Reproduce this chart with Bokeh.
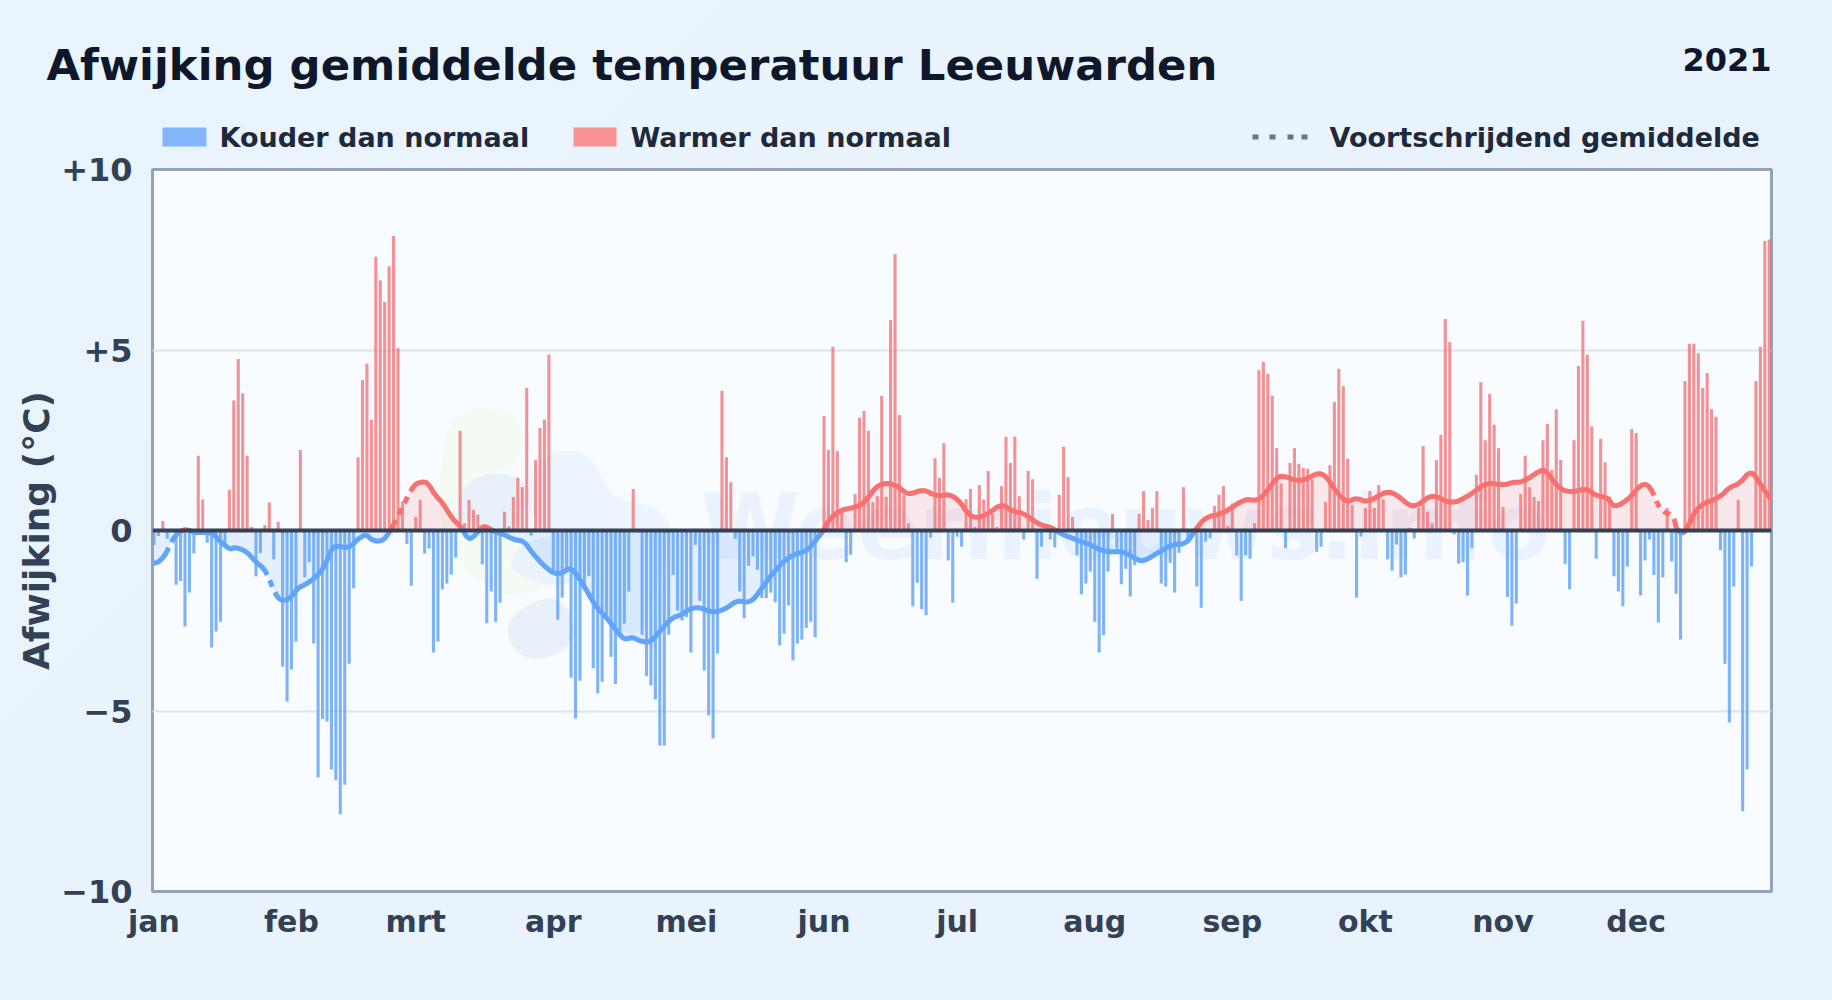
from bokeh.plotting import figure
from bokeh.layouts import column
from bokeh.embed import file_html
from bokeh.resources import INLINE
from bokeh.core.properties import value
from bokeh.models import Range1d, FixedTicker, Label, PolyAnnotation, Span

days = list(range(365))
anomaly = [
-0.4,-0.15,0.26,-0.23,-0.05,-1.5,-1.4,-2.66,-1.72,-0.64,2.07,0.86,-0.34,-3.24,-2.8,-2.53,-0.4,1.13,3.6,4.75,
3.8,2.07,0.1,-1.27,-0.63,0.15,0.78,-0.8,0.24,-3.77,-4.74,-3.85,-3.08,2.23,-1.3,-0.88,-3.13,-6.84,-5.22,-5.29,
-6.62,-6.92,-7.86,-7.04,-3.69,-1.6,2.03,4.17,4.62,3.07,7.58,6.93,6.33,7.32,8.16,5.05,0.8,-0.37,-1.53,0.38,
0.85,-0.64,-0.5,-3.38,-3.08,-1.63,-1.47,-1.22,-0.75,2.76,0.2,0.85,0.57,0.44,-0.94,-2.57,-1.69,-2.53,-2.0,0.52,
0.11,0.93,1.46,1.2,3.95,-0.14,1.95,2.84,3.07,4.87,-1.1,-2.47,-1.86,-1.15,-4.08,-5.21,-4.16,-1.66,-1.26,-3.82,
-4.51,-4.19,-2.35,-3.5,-4.25,-2.8,-2.58,-1.69,1.15,-0.05,-2.89,-4.04,-4.29,-4.68,-5.96,-5.96,-2.89,-1.23,-2.22,-2.49,
-2.4,-3.38,-0.4,-1.95,-3.88,-5.12,-5.76,-3.41,3.87,2.03,1.34,-0.23,-1.69,-2.43,-0.98,-0.72,-1.09,-1.87,-1.87,-1.72,
-1.99,-3.18,-2.86,-2.07,-3.6,-3.13,-3.02,-2.7,-2.53,-2.96,-0.2,3.17,2.23,5.09,2.2,0.52,-0.88,-0.67,1.01,3.12,
3.31,2.76,0.79,0.95,3.73,0.93,5.83,7.66,3.2,0.98,0.2,-2.1,-1.45,-2.18,-2.35,-0.2,2.0,1.46,2.42,-0.83,
-2.0,-0.17,-0.45,0.87,1.15,0.1,1.26,0.86,1.65,0.46,0.1,1.23,2.6,1.87,2.6,0.95,-0.25,1.65,1.42,-1.34,
-0.45,0.05,-0.25,-0.47,0.99,2.32,1.48,0.38,-0.69,-1.77,-1.47,-1.14,-2.53,-3.38,-2.9,-1.14,0.46,-0.5,-1.49,-1.06,
-1.83,-0.96,0.46,1.09,0.29,0.62,1.09,-1.47,-1.55,-0.9,-1.72,-0.62,1.2,-0.34,-0.05,-1.55,-2.14,-0.31,-0.22,0.68,
0.99,1.23,0.13,0.75,-0.69,-1.95,-0.69,-0.78,0.2,4.44,4.67,4.34,3.73,2.28,1.3,-0.49,1.87,2.28,1.85,1.73,
1.71,1.41,-0.59,-0.45,0.79,1.81,3.56,4.48,4.0,1.99,0.71,-1.86,-0.17,0.63,1.09,0.63,1.26,0.86,-0.8,-1.11,
-0.39,-1.3,-1.22,0.08,-0.22,0.63,2.34,0.52,0.2,1.95,2.65,5.86,5.22,-0.11,-0.92,-0.88,-1.8,-0.49,1.54,4.11,
2.5,3.78,2.93,2.28,0.65,-1.84,-2.64,-2.02,1.01,2.07,1.2,0.93,0.82,2.5,2.95,1.68,3.36,1.95,-0.92,-1.63,
2.5,4.56,5.81,4.87,2.89,-0.78,2.54,1.89,0.94,-1.27,-1.69,-2.1,-1.0,2.81,2.7,-1.8,-0.83,-0.25,-1.23,-2.55,
-1.3,0.62,-0.86,-1.75,-3.02,4.14,5.17,5.17,4.91,3.95,4.36,3.36,3.15,-0.55,-3.69,-5.32,-1.55,0.85,-7.78,-6.62,
-1.0,4.14,5.09,8.02,8.06]

roll_days = [-0.3,1,2.5,3.6,4.7,6.2,7.3,9.2,11.5,13.3,15.2,17.2,18.2,20.8,23,24.6,25.7,26.8,28,29.5,31,32.5,34.3,37,38.5,40,41,44,46,47.8,49.3,51.6,53,53.8,56.4,58.7,60.6,61.7,63.6,65,67.3,69.2,70.3,71.3,72.9,74.3,75.9,77.4,78.9,81.2,83.4,85.3,87.9,90.2,92.1,93.9,96.2,99.6,101.8,105.2,106.3,107.8,109.7,111.9,114.2,116.8,118.7,120.6,122.8,125.8,128.8,131.4,134.4,136.7,138.9,143,147.2,149,150.9,152,154.7,158.4,160.3,162.9,165.5,167.8,170,173.4,176.4,179,181.3,183.5,185.4,188,191,193.6,195.9,199.6,202.3,204.1,207.9,210.8,214.2,218.4,221.4,222.9,225.8,229.6,232.6,234.9,237.1,240.9,245.7,248.4,250.2,252.9,254.4,257.4,259.6,262.2,264.1,266.8,269,270.9,273.5,277.6,279.9,282.9,284.8,288.1,292.3,296.6,300.3,304,306.3,308.5,312.7,313.8,316.8,319.8,322.8,325,327.7,329,332.5,335.2,337.1,338.9,340,341.9,342.7,343,344.5,345.7,347.9,352.8,355,357.3,359.9,362.1,364]
roll_vals = [-0.92,-0.88,-0.69,-0.4,-0.15,0.0,0.03,-0.06,-0.05,-0.08,-0.34,-0.53,-0.46,-0.57,-0.88,-1.03,-1.26,-1.6,-1.89,-1.95,-1.84,-1.58,-1.49,-1.24,-0.98,-0.52,-0.42,-0.49,-0.23,-0.1,-0.29,-0.29,-0.06,0.11,0.75,1.29,1.35,1.32,0.94,0.78,0.31,0.11,-0.15,-0.25,-0.06,0.14,0.03,-0.06,-0.11,-0.26,-0.29,-0.63,-0.98,-1.2,-1.18,-1.01,-1.38,-2.12,-2.38,-2.93,-3.02,-2.95,-3.07,-3.1,-2.76,-2.41,-2.35,-2.18,-2.12,-2.28,-2.18,-1.93,-2.01,-1.66,-1.26,-0.71,-0.57,-0.29,0.0,0.29,0.57,0.65,0.8,1.25,1.32,1.21,0.98,1.15,0.94,1.01,0.86,0.44,0.34,0.46,0.75,0.52,0.49,0.15,0.09,-0.08,-0.26,-0.38,-0.6,-0.57,-0.8,-0.86,-0.65,-0.38,-0.38,0.06,0.38,0.46,0.88,0.82,0.98,1.46,1.52,1.38,1.41,1.6,1.52,1.0,0.78,0.91,0.77,1.09,1.01,0.68,0.69,1.02,0.72,0.98,1.34,1.25,1.34,1.34,1.69,1.64,1.13,1.06,1.17,0.96,0.91,0.62,0.88,1.3,1.24,0.71,0.52,0.44,0.29,0.06,-0.11,0.11,0.69,0.91,1.2,1.29,1.69,1.26,0.92]

dashed_spans = [(2.5, 4.7), (24.6, 28), (53.8, 58.7), (337.1, 343)]

month_starts = [0,31,59,90,120,151,181,212,243,273,304,334]
month_labels = ["jan","feb","mrt","apr","mei","jun","jul","aug","sep","okt","nov","dec"]
y_ticks = [-10,-5,0,5,10]
y_labels = {-10:"\u221210",-5:"\u22125",0:"0",5:"+5",10:"+10"}

FONT = "DejaVu Sans"
W, H = 1832, 1000
HEAD = 156          # height of the strip with title and legend
OVERLAP = 14        # the chart's canvas starts this far inside that strip
FL = 152            # frame left on the page

# ---- header: title and legend, in page pixels ----
h = figure(width=W, height=HEAD, output_backend="svg", toolbar_location=None,
           x_range=Range1d(0, W), y_range=Range1d(HEAD, 0), min_border=0,
           min_border_left=0, min_border_right=0, min_border_top=0, min_border_bottom=0,
           frame_align=False,
           background_fill_color=None, border_fill_color=None, outline_line_color=None)
h.axis.visible = False
h.grid.visible = False

def T(x, y, text, size, color, align="left"):
    h.text(x=[x], y=[y], text=[text], text_font=value(FONT), text_font_style="bold", text_font_size=size,
           text_color=color, text_align=align, text_baseline="middle")

T(46, 64.5, "Afwijking gemiddelde temperatuur Leeuwarden", "43.4px", "#0f172a")
T(1771, 58.5, "2021", "32px", "#0f172a", "right")
T(219, 136.5, "Kouder dan normaal", "27px", "#1e293b")
T(630, 136.5, "Warmer dan normaal", "27px", "#1e293b")
T(1329, 136.5, "Voortschrijdend gemiddelde", "27px", "#1e293b")
h.quad(left=[162], right=[206], top=[127], bottom=[146], fill_color="#82b6fb", line_color=None)
h.quad(left=[573], right=[616], top=[127], bottom=[146], fill_color="#f79193", line_color=None)
h.quad(left=[1252, 1269, 1287, 1301], right=[1258, 1275, 1293, 1307], top=[134]*4, bottom=[139]*4,
       fill_color="#64748b", line_color=None)

# ---- chart ----
TOP = HEAD - OVERLAP
p = figure(width=W, height=H-TOP, output_backend="svg", toolbar_location=None,
           x_range=Range1d(-0.32, 364.5), y_range=Range1d(-10, 10),
           min_border_left=FL, min_border_right=W-1771, min_border_top=169-TOP, min_border_bottom=H-891,
           frame_align=False, margin=(-OVERLAP, 0, 0, 0),
           background_fill_color="#f8fbff", border_fill_color=None)
p.outline_line_color = "#94a3b8"
p.outline_line_width = 3

p.xaxis.ticker = FixedTicker(ticks=month_starts)
p.xaxis.major_label_overrides = dict(zip(month_starts, month_labels))
p.yaxis.ticker = FixedTicker(ticks=y_ticks)
p.yaxis.major_label_overrides = y_labels
for ax in (p.xaxis[0], p.yaxis[0]):
    ax.axis_line_color = None
    ax.major_tick_line_color = None
    ax.minor_tick_line_color = None
    ax.major_label_text_font = FONT
    ax.major_label_text_font_style = "bold"
    ax.major_label_text_color = "#334155"
p.xaxis.major_label_text_font_size = "30px"
p.yaxis.major_label_text_font_size = "32px"
p.xaxis.major_label_standoff = 6
p.yaxis.major_label_standoff = 14
p.yaxis.axis_label = "Afwijking (\u00b0C)"
p.yaxis.axis_label_text_font = FONT
p.yaxis.axis_label_text_font_style = "bold"
p.yaxis.axis_label_text_font_size = "36px"
p.yaxis.axis_label_text_color = "#334155"
p.yaxis.axis_label_standoff = 1

p.xgrid.visible = False
p.ygrid.ticker = FixedTicker(ticks=[-5, 5])
p.ygrid.grid_line_color = "#dde4ec"
p.ygrid.grid_line_width = 2

def chaikin(pts, n=3):
    for _ in range(n):
        out = []
        for i in range(len(pts)):
            a, b = pts[i], pts[(i+1) % len(pts)]
            out.append((0.75*a[0]+0.25*b[0], 0.75*a[1]+0.25*b[1]))
            out.append((0.25*a[0]+0.75*b[0], 0.25*a[1]+0.75*b[1]))
        pts = out
    return pts

def blob(pts, color):
    s = chaikin(pts)
    p.add_layout(PolyAnnotation(xs=[x-FL for x, _ in s], ys=[891-y for _, y in s],
                                xs_units="screen", ys_units="screen",
                                fill_color=color, fill_alpha=1, line_color=None, level="underlay"))

blob([(447,420),(480,405),(522,415),(520,465),(470,478),(470,510),(530,545),(560,580),(510,600),(470,575),(440,530),(438,480)], "#f5faf2")
blob([(545,450),(590,450),(610,500),(660,505),(675,540),(650,600),(640,640),(600,620),(590,560),(545,530),(520,500)], "#ecf5fd")
blob([(462,485),(490,470),(530,480),(520,530),(465,535),(455,510)], "#e8f1fa")
blob([(520,540),(590,530),(600,560),(560,590),(505,570)], "#eaf3fb")
blob([(505,615),(560,590),(580,640),(540,662),(510,650)], "#e8f1fa")

p.add_layout(Label(x=700-FL, y=891-527, x_units="screen", y_units="screen", text="Weernieuws.info",
                   text_font=FONT, text_font_style="bold", text_font_size="90px", text_baseline="middle",
                   text_color="#3b82f6", text_alpha=0.07, level="underlay"))

neg_d = [d for d, v in zip(days, anomaly) if v < 0]
neg_v = [v for v in anomaly if v < 0]
pos_d = [d for d, v in zip(days, anomaly) if v >= 0]
pos_v = [v for v in anomaly if v >= 0]
p.vbar(x=neg_d, top=neg_v, bottom=0, width=0.7, fill_color="#5fa2f2", fill_alpha=0.8, line_color=None)
p.vbar(x=pos_d, top=pos_v, bottom=0, width=0.7, fill_color="#ef6a6e", fill_alpha=0.72, line_color=None)

# rounded drawing of the rolling mean through its read points
def rounded(xs, ys, n=2):
    pts = list(zip(xs, ys))
    for _ in range(n):
        out = [pts[0]]
        for a, b in zip(pts, pts[1:]):
            out.append((0.75*a[0]+0.25*b[0], 0.75*a[1]+0.25*b[1]))
            out.append((0.25*a[0]+0.75*b[0], 0.25*a[1]+0.75*b[1]))
        out.append(pts[-1])
        pts = out
    return [a for a, _ in pts], [b for _, b in pts]

rx, ry = rounded(roll_days, roll_vals)
p.varea(x=rx, y1=[min(v, 0) for v in ry], y2=0, fill_color="#60a5fa", fill_alpha=0.14)
p.varea(x=rx, y1=[max(v, 0) for v in ry], y2=0, fill_color="#f87171", fill_alpha=0.14)

def in_dash(a, b):
    return any(s <= a and b <= e for s, e in dashed_spans)

i = 0
n = len(rx)
while i < n - 1:
    dashed = in_dash(rx[i], rx[i+1])
    pos = (ry[i] + ry[i+1]) / 2 >= 0
    j = i + 1
    while j < n - 1:
        d2 = in_dash(rx[j], rx[j+1])
        p2 = (ry[j] + ry[j+1]) / 2 >= 0
        if d2 != dashed or p2 != pos:
            break
        j += 1
    p.line(rx[i:j+1], ry[i:j+1], line_color="#f87171" if pos else "#60a5fa",
           line_width=5, line_join="round", line_cap="round" if not dashed else "butt",
           line_dash="7 6" if dashed else "solid")
    i = j

p.add_layout(Span(location=0, dimension="width", line_color="#334155", line_width=4))

page = column(h, p, spacing=0)
html = file_html(page, INLINE)
html = html.replace("<head>", "<head><style>html,body{background:linear-gradient(135deg,#eaf4fd,#e7f2fc);overflow:hidden}</style>", 1)
open("out.html", "w").write(html)
